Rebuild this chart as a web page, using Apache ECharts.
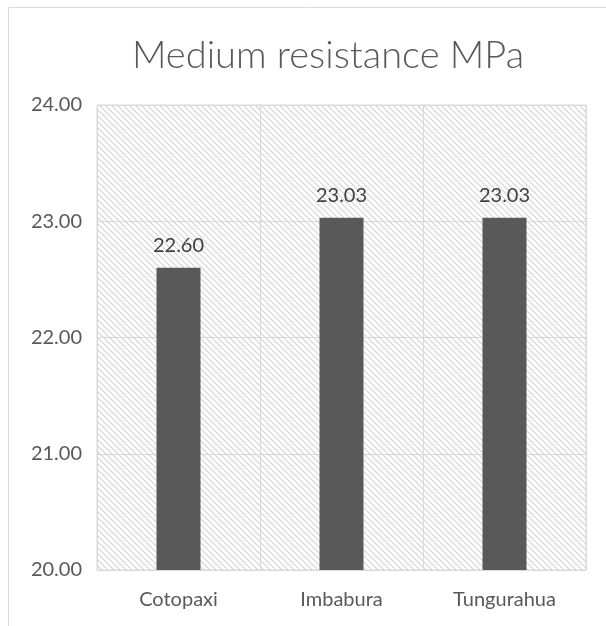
<!DOCTYPE html>
<html>
<head>
<meta charset="utf-8">
<script src="https://cdn.jsdelivr.net/npm/echarts@6/dist/echarts.min.js"></script>
<style>
  html, body { margin: 0; padding: 0; background: #fff; }
  #chart { width: 606px; height: 626px; }
</style>
</head>
<body>
<div id="chart"></div>
<script>
// Average compressive resistance per province
const categories = ['Cotopaxi', 'Imbabura', 'Tungurahua'];
const resistance = [22.60, 23.03, 23.03];
const yTicks = { min: 20, max: 24, interval: 1 };

// Light diagonal hatch used as the plot-area background
function hatchTile() {
  const size = 6;
  const c = document.createElement('canvas');
  c.width = size; c.height = size;
  const ctx = c.getContext('2d');
  ctx.fillStyle = '#ffffff';
  ctx.fillRect(0, 0, size, size);
  ctx.strokeStyle = '#d4d4d4';
  ctx.lineWidth = 1.2;
  ctx.beginPath();
  ctx.moveTo(-1, -1); ctx.lineTo(size + 1, size + 1);
  ctx.moveTo(-1, size - 1); ctx.lineTo(1, size + 1);
  ctx.moveTo(size - 1, -1); ctx.lineTo(size + 1, 1);
  ctx.stroke();
  return c;
}

const chart = echarts.init(document.getElementById('chart'), null, { renderer: 'canvas' });
const font = 'Lato, "Open Sans", sans-serif';

chart.setOption({
  animation: false,
  backgroundColor: '#ffffff',
  title: {
    text: 'Medium resistance MPa',
    left: 323,
    textAlign: 'center',
    top: 32,
    textStyle: { fontFamily: font, fontSize: 38, fontWeight: 300, color: '#595959' }
  },
  graphic: [{
    type: 'rect',
    shape: { x: 8.5, y: 7.5, width: 700, height: 700 },
    style: { fill: 'none', stroke: '#d9d9d9', lineWidth: 1 },
    silent: true
  }],
  grid: {
    left: 97, right: 20, top: 105, bottom: 56,
    show: true,
    backgroundColor: { image: hatchTile(), repeat: 'repeat' },
    borderColor: '#d9d9d9',
    borderWidth: 1
  },
  xAxis: {
    type: 'category',
    data: categories,
    axisLine: { show: false },
    axisTick: { show: false },
    splitLine: { show: true, lineStyle: { color: '#d9d9d9', width: 1 } },
    axisLabel: { fontFamily: font, fontSize: 20, color: '#595959', margin: 20 }
  },
  yAxis: {
    type: 'value',
    min: yTicks.min, max: yTicks.max, interval: yTicks.interval,
    axisLine: { show: false },
    axisTick: { show: false },
    splitLine: { show: true, lineStyle: { color: '#d9d9d9', width: 1 } },
    axisLabel: {
      fontFamily: font, fontSize: 20, color: '#595959', margin: 15,
      formatter: v => v.toFixed(2)
    }
  },
  series: [{
    type: 'bar',
    data: resistance,
    barWidth: 44,
    itemStyle: { color: '#595959' },
    label: {
      show: true,
      position: 'top',
      distance: 12,
      fontFamily: font, fontSize: 20, color: '#404040',
      formatter: p => p.value.toFixed(2)
    }
  }]
});
</script>
</body>
</html>
